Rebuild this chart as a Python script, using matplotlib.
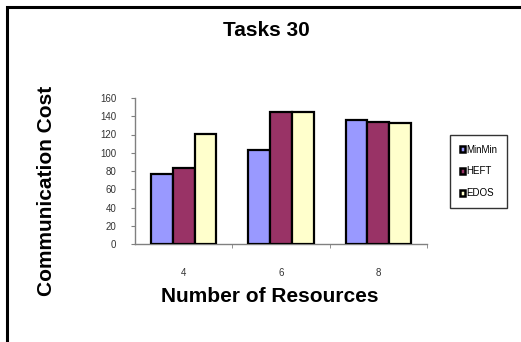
import matplotlib
matplotlib.use('Agg')
import matplotlib.pyplot as plt
from matplotlib.patches import Rectangle
import numpy as np

plt.rcParams['font.family'] = ['Liberation Sans', 'DejaVu Sans']

# dane
categories = ['4', '6', '8']
minmin = [77, 103, 136]
heft = [83, 145, 134]
edos = [121, 145, 133]
series = ['MinMin', 'HEFT', 'EDOS']
colors = ['#9999FF', '#993366', '#FFFFCC']

fig = plt.figure(figsize=(5.21, 3.42), dpi=100)

# ramka wokol wykresu (prawa i dolna krawedz poza obrazkiem)
fig.patches.append(Rectangle((7 / 521, -0.05), 1.1, (342 - 7) / 342 + 0.05,
                             transform=fig.transFigure, fill=False,
                             edgecolor='black', linewidth=2.2))

ax = fig.add_axes([135 / 521, 98 / 342, 292 / 521, 146 / 342])

x = np.arange(len(categories))
w = 0.223
for i, (vals, c, name) in enumerate(zip([minmin, heft, edos], colors, series)):
    ax.bar(x + (i - 1) * w, vals, w, color=c, edgecolor='black',
           linewidth=1.6, label=name, zorder=3)

ax.set_xlim(-0.5, 2.5)
ax.set_ylim(0, 160)
ax.set_yticks(range(0, 161, 20))
ax.set_xticks(x)
ax.set_xticklabels(categories)
ax.set_xticks([0.5, 1.5, 2.5], minor=True)
ax.tick_params(axis='x', which='major', length=0, pad=17, labelsize=7, labelcolor='#333333')
ax.tick_params(axis='x', which='minor', length=3, color='gray')
ax.tick_params(axis='y', length=3, color='gray', labelsize=7, labelcolor='#333333', pad=10.5)
for s in ['top', 'right']:
    ax.spines[s].set_visible(False)
for s in ['left', 'bottom']:
    ax.spines[s].set_color('gray')
    ax.spines[s].set_linewidth(1)

fig.text(266 / 521, 1 - 30 / 342, 'Tasks 30', ha='center', va='center',
         fontsize=15, fontweight='bold')
fig.text(270 / 521, 1 - 296 / 342, 'Number of Resources', ha='center', va='center',
         fontsize=15, fontweight='bold')
fig.text(47 / 521, 1 - 191 / 342, 'Communication Cost', ha='center', va='center',
         rotation=90, fontsize=15, fontweight='bold')

leg = fig.legend(loc='upper left', bbox_to_anchor=(450 / 521, 1 - 135 / 342),
                 fontsize=7, frameon=True, fancybox=False, edgecolor='black',
                 handlelength=0.55, handleheight=0.55, handletextpad=0.15,
                 labelspacing=1.2, borderpad=1.0, borderaxespad=0)
leg.get_frame().set_linewidth(1)
for h in leg.legend_handles:
    h.set_linewidth(1.8)

fig.savefig('out.png', dpi=100)
